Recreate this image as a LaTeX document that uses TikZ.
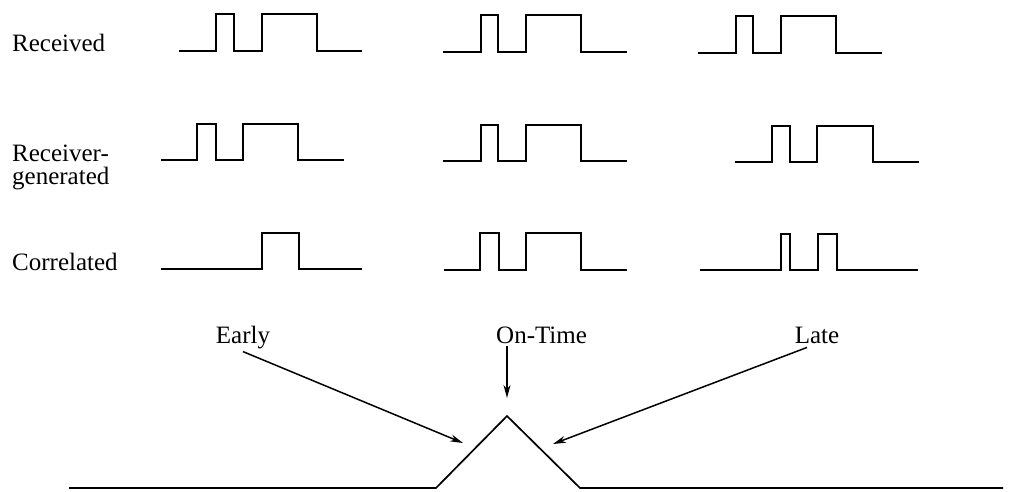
\documentclass[tikz,border=0pt]{standalone}
\usepackage{fontspec}
\setmainfont{Liberation Serif}
\usetikzlibrary{arrows.meta}
\begin{document}
\begin{tikzpicture}[x=1pt,y=-1pt,
  wave/.style={line width=1.7pt, line join=miter},
  lbl/.style={font=\fontsize{25}{22}\selectfont, inner sep=0pt},
  arr/.style={line width=1.5pt, -{Stealth[length=13pt,width=7pt]}}]
\useasboundingbox (0,0) rectangle (1011,492);

% row labels
\node[lbl, anchor=base west] (rec) at (12,52) {Received};
\node[lbl, anchor=base west] (gen) at (12,161) {Receiver-};
\node[lbl, anchor=base west] (gen2) at (12,184) {generated};
\node[lbl, anchor=base west] (cor) at (12,270) {Correlated};

% Received
\draw[wave] (179,51) -- (216,51) -- (216,14) -- (234,14) -- (234,51) -- (262,51) -- (262,14) -- (317,14) -- (317,51) -- (362,51);
\draw[wave] (443,52) -- (481,52) -- (481,15) -- (498,15) -- (498,52) -- (526,52) -- (526,15) -- (581,15) -- (581,52) -- (627,52);
\draw[wave] (698,53) -- (736,53) -- (736,16) -- (753,16) -- (753,53) -- (781,53) -- (781,16) -- (836,16) -- (836,53) -- (882,53);

% Receiver-generated
\draw[wave] (161,160) -- (197,160) -- (197,124) -- (216,124) -- (216,160) -- (243,160) -- (243,124) -- (298,124) -- (298,160) -- (344,160);
\draw[wave] (443,161) -- (481,161) -- (481,125) -- (498,125) -- (498,161) -- (526,161) -- (526,125) -- (581,125) -- (581,161) -- (627,161);
\draw[wave] (735,162) -- (772,162) -- (772,126) -- (790,126) -- (790,162) -- (817,162) -- (817,126) -- (873,126) -- (873,162) -- (919,162);

% Correlated
\draw[wave] (161,269) -- (262,269) -- (262,233) -- (299,233) -- (299,269) -- (362,269);
\draw[wave] (444,270) -- (480,270) -- (480,233) -- (499,233) -- (499,270) -- (526,270) -- (526,233) -- (581,233) -- (581,270) -- (627,270);
\draw[wave] (700,270) -- (781,270) -- (781,234) -- (790,234) -- (790,270) -- (818,270) -- (818,234) -- (837,234) -- (837,270) -- (918,270);

% correlation function
\coordinate (b0) at (69,488);
\coordinate (b1) at (436,488);
\coordinate (apex) at (507,416);
\coordinate (b2) at (580,488);
\coordinate (b3) at (1003,488);
\draw[wave] (b0) -- (b1) -- (apex) -- (b2) -- (b3);

% timing labels
\node[lbl, anchor=base] (early) at (243,343) {Early};
\node[lbl, anchor=base west] (ontime) at (496,343) {On-Time};
\node[lbl, anchor=base] (late) at (817,343) {Late};

\coordinate (etip) at (463,443);
\coordinate (otip) at (507,398);
\coordinate (ltip) at (553,444);

\draw[arr] ([yshift=-3pt]early.south) -- (etip);
\draw[arr] ([xshift=11pt,yshift=-3pt]ontime.south west) -- (otip);
\draw[arr] ([xshift=-10pt,yshift=-4pt]late.south) -- (ltip);
\end{tikzpicture}
\end{document}
